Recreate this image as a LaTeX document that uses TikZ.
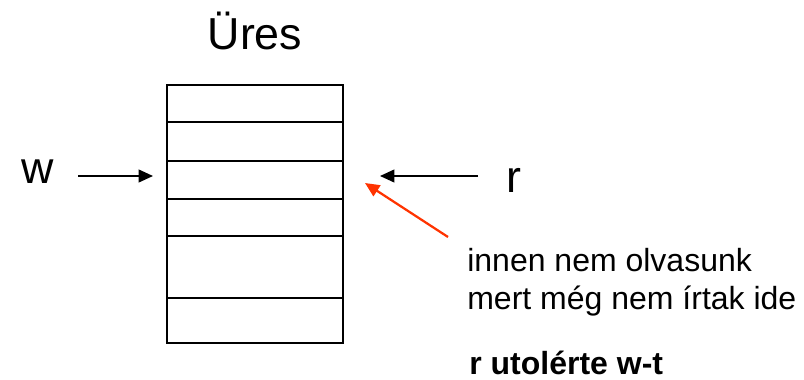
\documentclass[tikz,border=0pt]{standalone}
\usepackage{fontspec}
\setmainfont{Liberation Sans}
\usetikzlibrary{arrows.meta}
\definecolor{hint}{RGB}{255,51,0}

\begin{document}
\begin{tikzpicture}[x=0.625pt,y=-0.625pt,
  big/.style={font=\fontsize{28}{34}\selectfont,inner sep=0pt},
  note/.style={font=\fontsize{20}{23.75}\selectfont,inner sep=0pt,align=left},
  cell/.style={line width=1.7pt},
  ar/.style={-{Triangle[length=9pt,width=8pt]},line width=1.1pt},
  redar/.style={ar,draw=hint,fill=hint,line width=1.4pt}
]
\useasboundingbox (0,0) rectangle (804,380);
% the buffer with its slots
\draw[cell] (167,85) rectangle (343,343);
\foreach \y in {122,161,199,236,298}
  \draw[cell] (167,\y) -- (343,\y);
\node[big,anchor=base] (title) at (255,50) {Üres};
\node[big,anchor=base] (w) at (38,184) {w};
\node[big,anchor=base] (r) at (514,193) {r};
\node[note,anchor=base west] (why) at (467,309) {innen nem olvasunk\\mert még nem írtak ide};
\node[note,anchor=base west,font=\fontsize{20}{24}\selectfont\bfseries] (res) at (469,374) {r utolérte w-t};
% pointers
\coordinate (wfrom) at (78,176);
\coordinate (wto) at (153,176);
\coordinate (rfrom) at (478,176);
\coordinate (rto) at (380,176);
\coordinate (hfrom) at (448,237);
\coordinate (hto) at (365,183);
\draw[ar] (wfrom) -- (wto);
\draw[ar] (rfrom) -- (rto);
\draw[redar] (hfrom) -- (hto);
\end{tikzpicture}
\end{document}
